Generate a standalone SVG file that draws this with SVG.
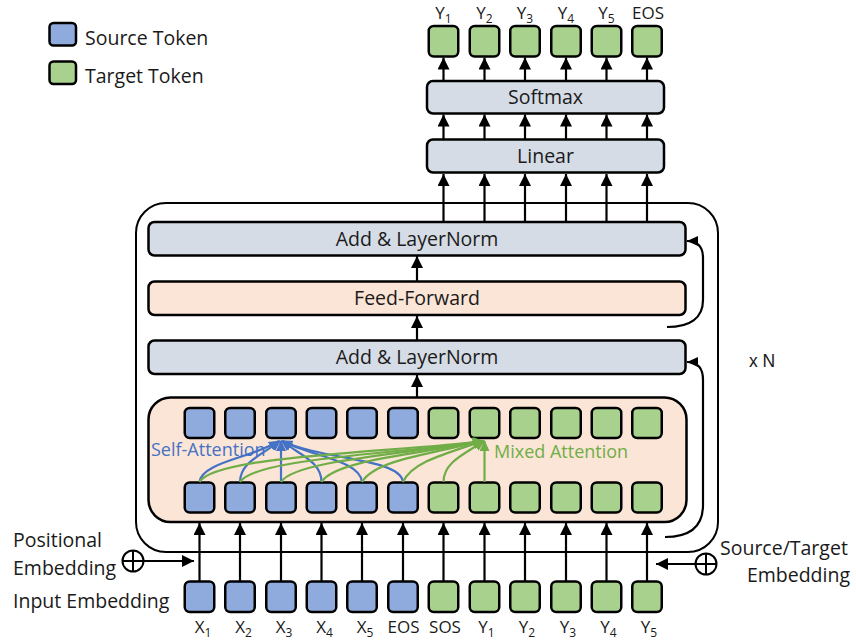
<svg xmlns="http://www.w3.org/2000/svg" width="856" height="642" viewBox="0 0 856 642">
<style>
text{font-family:"Open Sans","Noto Sans","DejaVu Sans",sans-serif;fill:#1a1a1a}
.lbl{font-size:19.5px}
.tl{font-size:17px;text-anchor:middle}
.sub{font-size:12px}
.box{stroke:#000;stroke-width:2.5}
.gray{fill:#D6DCE5}
.peach{fill:#FBE5D6}
.src{fill:#8FAADC;stroke:#000;stroke-width:2.5}
.tgt{fill:#A9D18E;stroke:#000;stroke-width:2.5}
.ar{stroke:#000;stroke-width:2.2;fill:none}
.bl{stroke:#4472C4;stroke-width:2.2;fill:none}
.gr{stroke:#70AD47;stroke-width:2.2;fill:none}
.mid{text-anchor:middle}
</style>
<defs>
<marker id="ah" markerUnits="userSpaceOnUse" markerWidth="12" markerHeight="12" refX="12" refY="6" orient="auto" viewBox="0 0 12 12"><path d="M0,0 L12,6 L0,12 z" fill="#000"/></marker>
<marker id="ahs" markerUnits="userSpaceOnUse" markerWidth="11" markerHeight="10" refX="11" refY="5" orient="auto" viewBox="0 0 11 10"><path d="M0,0 L11,5 L0,10 z" fill="#000"/></marker>
<marker id="ahb" markerUnits="userSpaceOnUse" markerWidth="11" markerHeight="10" refX="10" refY="5" orient="auto" viewBox="0 0 11 10"><path d="M0,0 L11,5 L0,10 z" fill="#4472C4"/></marker>
<marker id="ahg" markerUnits="userSpaceOnUse" markerWidth="11" markerHeight="10" refX="10" refY="5" orient="auto" viewBox="0 0 11 10"><path d="M0,0 L11,5 L0,10 z" fill="#70AD47"/></marker>
</defs>

<g id="legend">
<rect x="49.5" y="23" width="26.5" height="22.5" rx="4" class="src"/>
<text x="85" y="45" class="lbl">Source Token</text>
<rect x="49.5" y="61.5" width="26.5" height="22.5" rx="4" class="tgt"/>
<text x="85" y="83" class="lbl">Target Token</text>
</g>

<g id="outer-block">
<rect x="136" y="203" width="582" height="349" rx="30" fill="none" stroke="#000" stroke-width="2"/>
<text x="749" y="367" style="font-family:'Liberation Sans',Arial,sans-serif;font-size:17.5px">x N</text>
</g>

<g id="output-tokens">
<rect x="428.75" y="26" width="29.5" height="30.5" rx="5" class="tgt"/>
<rect x="469.75" y="26" width="29.5" height="30.5" rx="5" class="tgt"/>
<rect x="510.25" y="26" width="29.5" height="30.5" rx="5" class="tgt"/>
<rect x="551.25" y="26" width="29.5" height="30.5" rx="5" class="tgt"/>
<rect x="591.75" y="26" width="29.5" height="30.5" rx="5" class="tgt"/>
<rect x="632.25" y="26" width="29.5" height="30.5" rx="5" class="tgt"/>
<text x="443.5" y="18.5" class="tl">Y<tspan class="sub" dy="4">1</tspan></text>
<text x="484.5" y="18.5" class="tl">Y<tspan class="sub" dy="4">2</tspan></text>
<text x="525" y="18.5" class="tl">Y<tspan class="sub" dy="4">3</tspan></text>
<text x="566" y="18.5" class="tl">Y<tspan class="sub" dy="4">4</tspan></text>
<text x="606.5" y="18.5" class="tl">Y<tspan class="sub" dy="4">5</tspan></text>
<text x="648" y="18.5" class="tl">EOS</text>
</g>

<g id="softmax">
<rect x="427" y="81" width="237" height="32.5" rx="6" class="box gray"/>
<text x="545.5" y="104" class="lbl mid">Softmax</text>
</g>

<g id="linear">
<rect x="427" y="139.5" width="237" height="33" rx="6" class="box gray"/>
<text x="545.5" y="163" class="lbl mid">Linear</text>
</g>

<g id="add-norm-2">
<rect x="148.5" y="222" width="537" height="33.5" rx="6" class="box gray"/>
<text x="417" y="246" class="lbl mid">Add &amp; LayerNorm</text>
</g>

<g id="feed-forward">
<rect x="148.5" y="281.5" width="537" height="33.5" rx="6" class="box peach"/>
<text x="417" y="305" class="lbl mid">Feed-Forward</text>
</g>

<g id="add-norm-1">
<rect x="148.5" y="340.5" width="537" height="33.5" rx="6" class="box gray"/>
<text x="417" y="364" class="lbl mid">Add &amp; LayerNorm</text>
</g>

<g id="attention-block">
<rect x="148.5" y="397.5" width="538" height="124.5" rx="22" class="box peach"/>
<g id="attn-top-tokens">
<rect x="184.75" y="408" width="29.5" height="30" rx="5" class="src"/>
<rect x="225.25" y="408" width="29.5" height="30" rx="5" class="src"/>
<rect x="266.25" y="408" width="29.5" height="30" rx="5" class="src"/>
<rect x="306.75" y="408" width="29.5" height="30" rx="5" class="src"/>
<rect x="347.25" y="408" width="29.5" height="30" rx="5" class="src"/>
<rect x="388.25" y="408" width="29.5" height="30" rx="5" class="src"/>
<rect x="428.75" y="408" width="29.5" height="30" rx="5" class="tgt"/>
<rect x="469.75" y="408" width="29.5" height="30" rx="5" class="tgt"/>
<rect x="510.25" y="408" width="29.5" height="30" rx="5" class="tgt"/>
<rect x="551.25" y="408" width="29.5" height="30" rx="5" class="tgt"/>
<rect x="591.75" y="408" width="29.5" height="30" rx="5" class="tgt"/>
<rect x="632.25" y="408" width="29.5" height="30" rx="5" class="tgt"/>
</g>
<g id="attn-bottom-tokens">
<rect x="184.75" y="482.5" width="29.5" height="30" rx="5" class="src"/>
<rect x="225.25" y="482.5" width="29.5" height="30" rx="5" class="src"/>
<rect x="266.25" y="482.5" width="29.5" height="30" rx="5" class="src"/>
<rect x="306.75" y="482.5" width="29.5" height="30" rx="5" class="src"/>
<rect x="347.25" y="482.5" width="29.5" height="30" rx="5" class="src"/>
<rect x="388.25" y="482.5" width="29.5" height="30" rx="5" class="src"/>
<rect x="428.75" y="482.5" width="29.5" height="30" rx="5" class="tgt"/>
<rect x="469.75" y="482.5" width="29.5" height="30" rx="5" class="tgt"/>
<rect x="510.25" y="482.5" width="29.5" height="30" rx="5" class="tgt"/>
<rect x="551.25" y="482.5" width="29.5" height="30" rx="5" class="tgt"/>
<rect x="591.75" y="482.5" width="29.5" height="30" rx="5" class="tgt"/>
<rect x="632.25" y="482.5" width="29.5" height="30" rx="5" class="tgt"/>
</g>
<text x="151" y="456" style="font-size:18px;fill:#4472C4">Self-Attention</text>
<text x="494" y="458" style="font-size:18px;fill:#70AD47">Mixed Attention</text>
</g>

<g id="input-tokens">
<rect x="184.75" y="581.5" width="29.5" height="30.5" rx="5" class="src"/>
<rect x="225.25" y="581.5" width="29.5" height="30.5" rx="5" class="src"/>
<rect x="266.25" y="581.5" width="29.5" height="30.5" rx="5" class="src"/>
<rect x="306.75" y="581.5" width="29.5" height="30.5" rx="5" class="src"/>
<rect x="347.25" y="581.5" width="29.5" height="30.5" rx="5" class="src"/>
<rect x="388.25" y="581.5" width="29.5" height="30.5" rx="5" class="src"/>
<rect x="428.75" y="581.5" width="29.5" height="30.5" rx="5" class="tgt"/>
<rect x="469.75" y="581.5" width="29.5" height="30.5" rx="5" class="tgt"/>
<rect x="510.25" y="581.5" width="29.5" height="30.5" rx="5" class="tgt"/>
<rect x="551.25" y="581.5" width="29.5" height="30.5" rx="5" class="tgt"/>
<rect x="591.75" y="581.5" width="29.5" height="30.5" rx="5" class="tgt"/>
<rect x="632.25" y="581.5" width="29.5" height="30.5" rx="5" class="tgt"/>
<text x="203" y="633" class="tl">X<tspan class="sub" dy="4">1</tspan></text>
<text x="243.5" y="633" class="tl">X<tspan class="sub" dy="4">2</tspan></text>
<text x="284" y="633" class="tl">X<tspan class="sub" dy="4">3</tspan></text>
<text x="324.5" y="633" class="tl">X<tspan class="sub" dy="4">4</tspan></text>
<text x="365" y="633" class="tl">X<tspan class="sub" dy="4">5</tspan></text>
<text x="403.5" y="633" class="tl">EOS</text>
<text x="445" y="633" class="tl">SOS</text>
<text x="486.5" y="633" class="tl">Y<tspan class="sub" dy="4">1</tspan></text>
<text x="527" y="633" class="tl">Y<tspan class="sub" dy="4">2</tspan></text>
<text x="568" y="633" class="tl">Y<tspan class="sub" dy="4">3</tspan></text>
<text x="608.5" y="633" class="tl">Y<tspan class="sub" dy="4">4</tspan></text>
<text x="649" y="633" class="tl">Y<tspan class="sub" dy="4">5</tspan></text>
</g>

<g id="positional-embedding">
<text x="13" y="547" class="lbl">Positional</text>
<text x="13" y="575" class="lbl">Embedding</text>
<text x="13" y="608" class="lbl">Input Embedding</text>
<circle cx="133" cy="561" r="10.5" fill="#fff" stroke="#000" stroke-width="2"/>
<path d="M122.5,561 H143.5 M133,550.5 V571.5" stroke="#000" stroke-width="2"/>
</g>

<g id="source-target-embedding">
<text x="720" y="555" class="lbl">Source/Target</text>
<text x="850" y="582" class="lbl" text-anchor="end">Embedding</text>
<circle cx="706" cy="564" r="10.5" fill="#fff" stroke="#000" stroke-width="2"/>
<path d="M695.5,564 H716.5 M706,553.5 V574.5" stroke="#000" stroke-width="2"/>
</g>

<g id="connectors">
<g class="ar" marker-end="url(#ah)">
<path d="M199.5,581 V523"/><path d="M240,581 V523"/><path d="M281,581 V523"/><path d="M321.5,581 V523"/>
<path d="M362,581 V523"/><path d="M403,581 V523"/><path d="M443.5,581 V523"/><path d="M484.5,581 V523"/>
<path d="M525,581 V523"/><path d="M566,581 V523"/><path d="M606.5,581 V523"/><path d="M647,581 V523"/>
<path d="M144,561 H194"/>
<path d="M695,564 H656"/>
<path d="M417,397 V375"/><path d="M417,340 V316"/><path d="M417,281 V256"/>
<path d="M443.5,222 V174"/><path d="M484.5,222 V174"/><path d="M525,222 V174"/><path d="M566,222 V174"/><path d="M606.5,222 V174"/><path d="M647,222 V174"/>
<path d="M443.5,139 V114.5"/><path d="M484.5,139 V114.5"/><path d="M525,139 V114.5"/><path d="M566,139 V114.5"/><path d="M606.5,139 V114.5"/><path d="M647,139 V114.5"/>
<path d="M443.5,80.5 V57.5"/><path d="M484.5,80.5 V57.5"/><path d="M525,80.5 V57.5"/><path d="M566,80.5 V57.5"/><path d="M606.5,80.5 V57.5"/><path d="M647,80.5 V57.5"/>
</g>
<g class="ar" marker-end="url(#ahs)">
<path d="M667,327 C690,327 703,318 703,300 L703,258 C703,247 698,241 687,241"/>
<path d="M665,537 C690,537 703,527 703,505 L703,380 C703,369 698,362 687,362"/>
</g>
<g id="self-attention-arrows" class="bl" marker-end="url(#ahb)">
<path d="M199.5,482 C202,462 252,458 279,441"/>
<path d="M240,482 C240,462 262,455 280,441"/>
<path d="M281,482 L281,441"/>
<path d="M321.5,482 C321.5,462 300,455 282,441"/>
<path d="M362,482 C360,460 310,456 282,441"/>
<path d="M403,482 C400,458 322,460 282,441"/>
</g>
<g id="mixed-attention-arrows" class="gr" marker-end="url(#ahg)">
<path d="M199.5,482 C215,455 400,452 483,441"/>
<path d="M240,482 C255,458 400,454 483,441"/>
<path d="M281,482 C295,460 410,454 483,441"/>
<path d="M321.5,482 C335,460 420,454 483,441"/>
<path d="M362,482 C375,460 430,454 483,441"/>
<path d="M403,482 C412,462 445,454 483,441"/>
<path d="M443.5,482 C443.5,462 465,454 484,441"/>
<path d="M484.5,482 L484.5,441"/>
</g>
</g>
</svg>
